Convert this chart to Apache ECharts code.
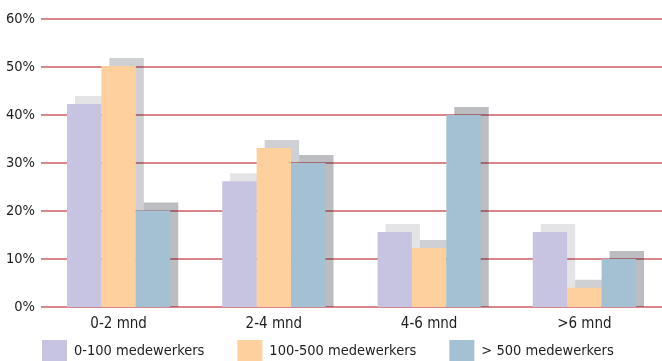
<!DOCTYPE html>
<html>
<head>
<meta charset="utf-8">
<script src="https://cdn.jsdelivr.net/npm/echarts@6/dist/echarts.min.js"></script>
<style>
  html, body { margin: 0; padding: 0; background: #fff; }
  #chart { width: 662px; height: 361px; }
</style>
</head>
<body>
<div id="chart"></div>
<script>
// Doorlooptijd per bedrijfsgrootte (percentages)
const categories = ['0-2 mnd', '2-4 mnd', '4-6 mnd', '>6 mnd'];
const seriesNames = ['0-100 medewerkers', '100-500 medewerkers', '> 500 medewerkers'];
const small = [42.3, 26.2, 15.6, 15.6];
const medium = [50.2, 33.1, 12.3, 4.0];
const large = [20.1, 30.0, 40.0, 10.0];
const yTicks = [0, 10, 20, 30, 40, 50, 60];

const barColors = ['#c6c4e1', '#fdd09d', '#a3c1d3'];
const shadowColors = ['rgba(30,35,50,0.12)', 'rgba(30,35,50,0.21)', 'rgba(30,35,50,0.30)'];
const FONT = "'DejaVu Sans Condensed', 'DejaVu Sans', sans-serif";
const GAP = 0.335;
const DEPTH = 8;

const allValues = [small, medium, large];

// shadow blocks: [categoryIndex, value, seriesIndex]
const shadowData = [];
allValues.forEach((vals, s) => vals.forEach((v, c) => shadowData.push([c, v, s])));

const chart = echarts.init(document.getElementById('chart'), null, { renderer: 'canvas' });

chart.setOption({
  animation: false,
  grid: { left: 41, right: -1, top: 19, bottom: 54, containLabel: false },
  legend: {
    data: seriesNames,
    left: 42, top: 340, padding: 0,
    itemWidth: 25, itemHeight: 22, itemGap: 33,
    icon: 'rect',
    textStyle: { fontFamily: FONT, fontSize: 14.5, color: '#1e1e1e', padding: [0, 0, 0, 2] }
  },
  xAxis: {
    type: 'category',
    data: categories,
    axisLine: { show: false },
    axisTick: { show: false },
    axisLabel: { fontFamily: FONT, fontSize: 15, color: '#1e1e1e', margin: 10 }
  },
  yAxis: {
    type: 'value',
    min: yTicks[0], max: yTicks[yTicks.length - 1], interval: 10,
    axisLine: { show: false },
    axisTick: { show: false },
    axisLabel: { fontFamily: FONT, fontSize: 14.5, color: '#1e1e1e', margin: 6, formatter: '{value}%' },
    splitLine: { lineStyle: { color: '#cc5c66', width: 1.5 } }
  },
  series: [
    {
      type: 'custom',
      z: 1,
      silent: true,
      data: shadowData,
      renderItem: function (params, api) {
        const c = api.value(0), v = api.value(1), s = api.value(2);
        const top = api.coord([c, v]);
        const base = api.coord([c, 0]);
        const band = api.size([1, 0])[0];
        const w = band * (1 - GAP) / 3;
        const x = top[0] - 1.5 * w + s * w;
        return {
          type: 'rect',
          shape: { x: x + DEPTH, y: top[1] - DEPTH, width: w, height: base[1] - top[1] + DEPTH },
          style: { fill: shadowColors[s] }
        };
      }
    }
  ].concat(allValues.map((vals, s) => ({
    name: seriesNames[s],
    type: 'bar',
    z: 2,
    data: vals,
    barGap: '0%',
    barCategoryGap: (GAP * 100) + '%',
    itemStyle: { color: barColors[s] }
  })))
});
</script>
</body>
</html>
